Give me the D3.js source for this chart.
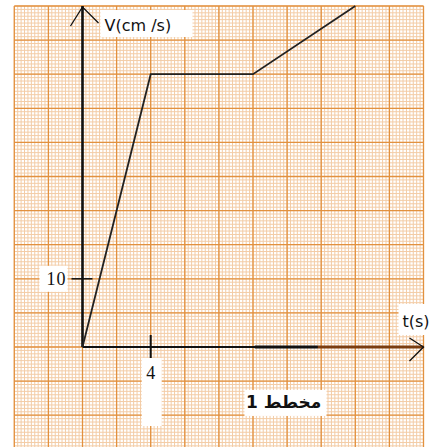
<!DOCTYPE html>
<html>
<head>
<meta charset="utf-8">
<script src="https://cdn.jsdelivr.net/npm/d3@7"></script>
<style>
  body { margin: 0; background: #fff; }
  svg { display: block; }
</style>
</head>
<body>
<div id="chart"></div>
<script>
// v(t) graph on millimetre paper
var times = [0, 4, 10, 16]
var speeds = [0, 40, 40, 50]
var xTicks = [4]
var yTicks = [10]
var xLabel = "t(s)"
var yLabel = "V(cm /s)"
var caption = "مخطط 1"

const W = 432, H = 447

const svg = d3.select("#chart")
  .append("svg")
  .attr("width", W)
  .attr("height", H)

// 2 s and 5 cm/s per big square (34.1px)
const x = d3.scaleLinear().domain([0, 20]).range([82.5, 423.5])
const y = d3.scaleLinear().domain([0, 50]).range([347, 6])

const tMin = -4, tMax = 20, vMin = -15, vMax = 50

// fine lines
const grid = svg.append("g")
grid.selectAll(".vmin")
  .data(d3.range(tMin * 5, tMax * 5 + 1).map(d => d / 5))
  .enter().append("line")
  .attr("x1", d => x(d)).attr("x2", d => x(d))
  .attr("y1", y(vMax)).attr("y2", H)
  .attr("stroke", "#f3cca6")
  .attr("stroke-width", 1)
grid.selectAll(".hmin")
  .data(d3.range(vMin * 2, vMax * 2 + 1).map(d => d / 2))
  .enter().append("line")
  .attr("y1", d => y(d)).attr("y2", d => y(d))
  .attr("x1", x(tMin)).attr("x2", x(tMax))
  .attr("stroke", "#f3cca6")
  .attr("stroke-width", 1)

// big squares
grid.selectAll(".vmaj")
  .data(d3.range(tMin, tMax + 1, 2))
  .enter().append("line")
  .attr("x1", d => x(d)).attr("x2", d => x(d))
  .attr("y1", y(vMax)).attr("y2", H)
  .attr("stroke", "#e2913f")
  .attr("stroke-width", 1.3)
grid.selectAll(".hmaj")
  .data(d3.range(vMin, vMax + 1, 5))
  .enter().append("line")
  .attr("y1", d => y(d)).attr("y2", d => y(d))
  .attr("x1", x(tMin)).attr("x2", x(tMax))
  .attr("stroke", "#e2913f")
  .attr("stroke-width", 1.3)

// axes
svg.append("line")
  .attr("x1", x(0)).attr("x2", x(0))
  .attr("y1", y(0)).attr("y2", y(vMax))
  .attr("stroke", "#111").attr("stroke-width", 2.6)
svg.append("line")
  .attr("x1", x(0)).attr("x2", x(tMax))
  .attr("y1", y(0)).attr("y2", y(0))
  .attr("stroke", "#111").attr("stroke-width", 2)
svg.append("line")
  .attr("x1", x(10.1)).attr("x2", x(13.8))
  .attr("y1", y(0)).attr("y2", y(0))
  .attr("stroke", "#111").attr("stroke-width", 3)
svg.append("line")
  .attr("x1", x(13.8)).attr("x2", x(tMax))
  .attr("y1", y(0)).attr("y2", y(0))
  .attr("stroke", "#7a3d10").attr("stroke-width", 3)

// arrow heads
svg.append("path")
  .attr("d", `M${x(0) - 12},${y(vMax) + 20} L${x(0)},${y(vMax) + 1} L${x(0) + 16},${y(vMax) + 17}`)
  .attr("fill", "none").attr("stroke", "#111").attr("stroke-width", 1.3)
svg.append("path")
  .attr("d", `M${x(tMax) - 14},${y(0) - 9} L${x(tMax)},${y(0)} L${x(tMax) - 14},${y(0) + 14}`)
  .attr("fill", "none").attr("stroke", "#111").attr("stroke-width", 1.3)

// ticks
svg.selectAll(".xt")
  .data(xTicks)
  .enter().append("line")
  .attr("x1", d => x(d)).attr("x2", d => x(d))
  .attr("y1", y(0) - 12).attr("y2", y(0) + 11)
  .attr("stroke", "#111").attr("stroke-width", 2)
svg.selectAll(".yt")
  .data(yTicks)
  .enter().append("line")
  .attr("x1", x(0) - 11).attr("x2", x(0) + 10)
  .attr("y1", d => y(d)).attr("y2", d => y(d))
  .attr("stroke", "#111").attr("stroke-width", 1.5)

// white patches behind labels
function patch(px, py, pw, ph) {
  svg.append("rect").attr("x", px).attr("y", py).attr("width", pw).attr("height", ph).attr("fill", "#fff")
}
patch(x(0) + 18, y(vMax) + 4, 92, 27)
patch(x(0) - 43, y(yTicks[0]) - 13, 28, 26)
patch(x(xTicks[0]) - 9, y(0) + 11, 20, 68)
patch(x(tMax) - 25, y(0) - 43, 40, 31)
patch(x(9.5), y(-6.3), 82, 26)

const font = "'DejaVu Sans', sans-serif"
svg.append("text")
  .attr("x", x(0) + 22).attr("y", y(vMax) + 25)
  .attr("font-family", font).attr("font-size", 16)
  .attr("fill", "#111")
  .text(yLabel)
svg.selectAll(".yl")
  .data(yTicks)
  .enter().append("text")
  .attr("x", x(0) - 16).attr("y", d => y(d) + 6)
  .attr("text-anchor", "end")
  .attr("font-family", "'Liberation Serif', serif").attr("font-size", 18)
  .attr("letter-spacing", 1)
  .attr("fill", "#111")
  .text(d => d)
svg.selectAll(".xl")
  .data(xTicks)
  .enter().append("text")
  .attr("x", d => x(d)).attr("y", y(0) + 32)
  .attr("text-anchor", "middle")
  .attr("font-family", "'Liberation Serif', serif").attr("font-size", 18)
  .attr("fill", "#111")
  .text(d => d)
svg.append("text")
  .attr("x", x(tMax) - 21).attr("y", y(0) - 20)
  .attr("font-family", font).attr("font-size", 16)
  .attr("fill", "#111")
  .text(xLabel)
svg.append("text")
  .attr("x", x(11.8)).attr("y", y(-9))
  .attr("text-anchor", "middle")
  .attr("font-family", font).attr("font-size", 17)
  .attr("font-weight", "bold")
  .attr("fill", "#111")
  .text(caption)

// the v(t) curve
const line = d3.line()
  .x(d => x(d[0]))
  .y(d => y(d[1]))
svg.append("path")
  .datum(d3.zip(times, speeds))
  .attr("d", line)
  .attr("fill", "none")
  .attr("stroke", "#222")
  .attr("stroke-width", 1.8)
</script>
</body>
</html>
